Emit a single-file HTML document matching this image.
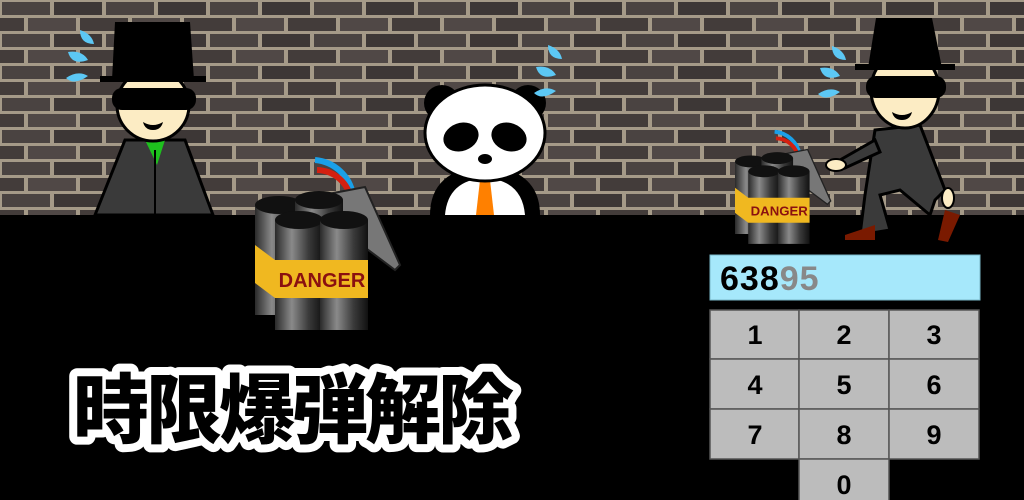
<!DOCTYPE html>
<html><head><meta charset="utf-8"><style>
html,body{margin:0;padding:0;background:#000;}
svg{display:block;}
</style></head><body>
<svg width="1024" height="500" viewBox="0 0 1024 500" xmlns="http://www.w3.org/2000/svg">
<defs>
<pattern id="bricks" width="104" height="32" patternUnits="userSpaceOnUse">
<rect width="104" height="32" fill="#a59a88"/>
<rect x="2" y="2" width="48" height="13" fill="#4a4341"/>
<rect x="54" y="2" width="48" height="13" fill="#3d3736"/>
<rect x="-24" y="18" width="48" height="13" fill="#433c3a"/>
<rect x="28" y="18" width="48" height="13" fill="#504846"/>
<rect x="80" y="18" width="48" height="13" fill="#433c3a"/>
</pattern>
<linearGradient id="cyl" x1="0" x2="1">
<stop offset="0" stop-color="#2a2a2a"/><stop offset=".35" stop-color="#8a8a8a"/><stop offset=".7" stop-color="#3a3a3a"/><stop offset="1" stop-color="#111"/>
</linearGradient>
<g id="bomb">
<path d="M60 -5 A42 42 0 0 1 98 30" fill="none" stroke="#1aa0e8" stroke-width="6"/>
<path d="M62 5 A35 35 0 0 1 96 35" fill="none" stroke="#d42010" stroke-width="6"/>
<polygon points="68,30 110,22 145,100 140,105 80,60" fill="#777" stroke="#222" stroke-width="2"/>
<rect x="0" y="40" width="48" height="110" fill="url(#cyl)"/><ellipse cx="24" cy="40" rx="24" ry="9" fill="#111"/>
<rect x="40" y="35" width="48" height="110" fill="url(#cyl)"/><ellipse cx="64" cy="35" rx="24" ry="9" fill="#111"/>
<rect x="20" y="55" width="48" height="110" fill="url(#cyl)"/><ellipse cx="44" cy="55" rx="24" ry="9" fill="#111"/>
<rect x="65" y="55" width="48" height="110" fill="url(#cyl)"/><ellipse cx="89" cy="55" rx="24" ry="9" fill="#111"/>
<path d="M0 80 L20 95 L113 95 L113 133 L20 133 L0 118 Z" fill="#f0b820"/>
<text x="67" y="122" text-anchor="middle" font-family="Liberation Sans, sans-serif" font-weight="bold" font-size="20" fill="#8a1010">DANGER</text>
</g>
<g id="drops">
<path d="M0 0 q12 4 14 14 q-14 0 -14 -14z" fill="#5cc8f5"/>
<path d="M-12 22 q14 -2 20 8 q-16 6 -20 -8z" fill="#5cc8f5"/>
<path d="M-14 48 q12 -8 22 -2 q-14 10 -22 2z" fill="#5cc8f5"/>
</g>
</defs>
<rect x="0" y="0" width="1024" height="215" fill="url(#bricks)"/>
<rect x="0" y="215" width="1024" height="285" fill="#000"/>

<g>
<path d="M95 215 L125 140 L185 140 L213 215 Z" fill="#3a3a3a" stroke="#000" stroke-width="3"/>
<polygon points="145,140 165,140 157,165" fill="#1ec01e"/>
<line x1="155" y1="150" x2="155" y2="215" stroke="#000" stroke-width="2"/>
<ellipse cx="153" cy="105" rx="36" ry="36" fill="#fcecc4" stroke="#000" stroke-width="3"/>
<rect x="112" y="88" width="84" height="22" rx="10" fill="#000"/>
<path d="M143 122 q10 6 20 0 q-2 8 -10 8 q-8 0 -10 -8z" fill="#000"/>
<rect x="100" y="76" width="106" height="6" fill="#000"/>
<polygon points="115,22 190,22 194,80 112,80" fill="#000"/>
<use href="#drops" x="80" y="30"/>
</g>

<g>
<path d="M430 215 Q430 170 485 165 Q540 170 540 215 Z" fill="#000"/>
<path d="M445 215 Q448 180 485 178 Q522 180 525 215 Z" fill="#fff"/>
<polygon points="480,180 490,180 494,215 476,215" fill="#ff8000"/>
<circle cx="442" cy="103" r="18" fill="#000"/><circle cx="528" cy="103" r="18" fill="#000"/>
<ellipse cx="485" cy="133" rx="60" ry="48" fill="#fff" stroke="#000" stroke-width="3"/>
<ellipse cx="461" cy="137" rx="18" ry="14" fill="#000" transform="rotate(-20 461 137)"/>
<ellipse cx="509" cy="137" rx="18" ry="14" fill="#000" transform="rotate(20 509 137)"/>
<ellipse cx="485" cy="159" rx="7" ry="5" fill="#000"/>
<use href="#drops" x="548" y="45"/>
</g>

<g>
<path d="M875 130 L920 125 L945 190 L935 200 L930 215 L900 190 L880 195 L890 230 L860 235 L865 195 Z" fill="#3a3a3a" stroke="#000" stroke-width="3"/>
<path d="M875 140 L840 160 L845 168 L880 152 Z" fill="#3a3a3a" stroke="#000" stroke-width="3"/>
<ellipse cx="836" cy="165" rx="10" ry="6" fill="#fcecc4" stroke="#000" stroke-width="2"/>
<ellipse cx="948" cy="198" rx="6" ry="10" fill="#fcecc4" stroke="#000" stroke-width="2"/>
<path d="M845 235 L875 225 L875 240 L845 240Z" fill="#7a1a00"/>
<path d="M945 210 L960 215 L948 242 L938 240Z" fill="#7a1a00"/>
<ellipse cx="905" cy="90" rx="34" ry="38" fill="#fcecc4" stroke="#000" stroke-width="3"/>
<rect x="866" y="76" width="80" height="22" rx="10" fill="#000"/>
<path d="M892 112 q10 6 20 0 q-2 8 -10 8 q-8 0 -10 -8z" fill="#000"/>
<rect x="855" y="64" width="100" height="6" fill="#000"/>
<polygon points="876,18 932,18 942,68 868,68" fill="#000"/>
<use href="#drops" x="832" y="46"/>
</g>

<use href="#bomb" transform="translate(255,165)"/>
<use href="#bomb" transform="translate(735,135) scale(0.66)"/>

<text x="73" y="437" font-family="Liberation Sans, Noto Sans CJK JP, sans-serif" font-weight="900" font-size="76" letter-spacing="-3" fill="#000" stroke="#fff" stroke-width="16" stroke-linejoin="round" paint-order="stroke">時限爆弾解除</text>

<g>
<rect x="710" y="255" width="270" height="45" fill="#a6e8fb" stroke="#7ab8c8" stroke-width="1"/>
<text x="720" y="290" font-family="Liberation Sans, sans-serif" font-weight="bold" font-size="34" letter-spacing="1" fill="#000">638<tspan fill="#888">95</tspan></text>
<g font-family="Liberation Sans, sans-serif" font-weight="bold" font-size="28" text-anchor="middle" fill="#000" stroke="#555" stroke-width="1.5">
<rect x="710" y="310" width="89" height="49" fill="#bcbcbc"/>
<rect x="799" y="310" width="90" height="49" fill="#bcbcbc"/>
<rect x="889" y="310" width="90" height="49" fill="#bcbcbc"/>
<rect x="710" y="359" width="89" height="50" fill="#bcbcbc"/>
<rect x="799" y="359" width="90" height="50" fill="#bcbcbc"/>
<rect x="889" y="359" width="90" height="50" fill="#bcbcbc"/>
<rect x="710" y="409" width="89" height="50" fill="#bcbcbc"/>
<rect x="799" y="409" width="90" height="50" fill="#bcbcbc"/>
<rect x="889" y="409" width="90" height="50" fill="#bcbcbc"/>
<rect x="799" y="459" width="90" height="45" fill="#bcbcbc"/>
</g>
<g font-family="Liberation Sans, sans-serif" font-weight="bold" font-size="27" text-anchor="middle" fill="#000">
<text x="755" y="344">1</text><text x="844" y="344">2</text><text x="934" y="344">3</text>
<text x="755" y="394">4</text><text x="844" y="394">5</text><text x="934" y="394">6</text>
<text x="755" y="444">7</text><text x="844" y="444">8</text><text x="934" y="444">9</text>
<text x="844" y="494">0</text>
</g>
</g>
</svg>
</body></html>
